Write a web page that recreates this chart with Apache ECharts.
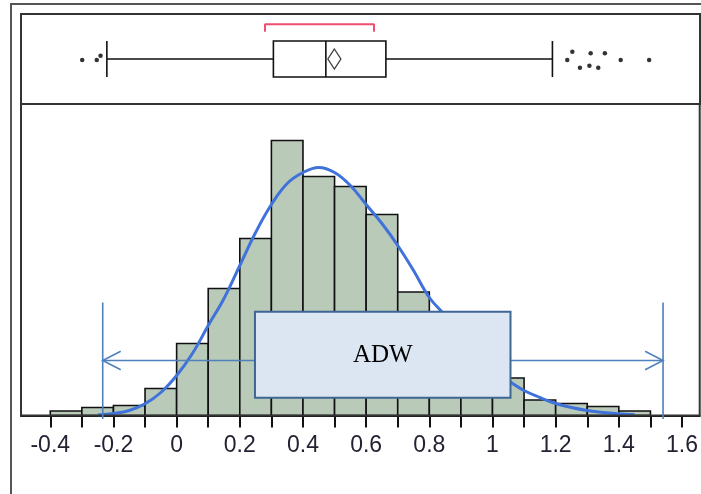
<!DOCTYPE html>
<html>
<head>
<meta charset="utf-8">
<script src="https://cdn.jsdelivr.net/npm/echarts@6/dist/echarts.min.js"></script>
<style>
html,body{margin:0;padding:0;background:#fff;}
#chart{width:701px;height:494px;}
</style>
</head>
<body>
<div id="chart"></div>
<script>
// ---- data ----
const binStarts = [-0.4,-0.3,-0.2,-0.1,0,0.1,0.2,0.3,0.4,0.5,0.6,0.7,0.8,0.9,1.0,1.1,1.2,1.3,1.4];
const binWidth = 0.1;
const binCounts = [4.5,8,10,27,72,127,177,275,239,229,201,123.5,90,58,37.5,15.5,12,9,4.5];

const curveX = [-0.25,-0.2,-0.15,-0.1,-0.05,0,0.05,0.1,0.15,0.2,0.25,0.3,0.35,0.4,0.45,0.5,0.55,0.6,0.65,0.7,0.75,0.8,0.85,0.9,0.95,1.0,1.05,1.1,1.15,1.2,1.25,1.3,1.35,1.4,1.45];
const curveY = [0.5,2,5,11.7,23,40,62,90,117,150,183,211,232,243,248,243,230,211,192,170,145,118,100,80,62,47,35,25,18,12,8,5,3,1.7,0.8];

// box plot: [lower whisker, Q1, median, Q3, upper whisker]
const boxStats = [-0.221, 0.306, 0.472, 0.662, 1.189];
const meanValue = 0.499;
const outlierX = [-0.299,-0.253,-0.241,1.236,1.252,1.276,1.306,1.310,1.334,1.355,1.405,1.495];
const outlierJitter = [-1,-1,3.3,-1,7.3,-8.7,-6.7,5.7,-8.7,5.7,-1,-1];
const bracketX = [0.2795, 0.6244];

const tickValues = [-0.4,-0.3,-0.2,-0.1,0,0.1,0.2,0.3,0.4,0.5,0.6,0.7,0.8,0.9,1.0,1.1,1.2,1.3,1.4,1.5,1.6];
const tickLabels = [-0.4,-0.2,0,0.2,0.4,0.6,0.8,1.0,1.2,1.4,1.6];

const adwLabel = 'ADW';
const adwRange = [-0.234, 1.540];
const adwBoxX = [0.248, 1.057];
const adwBoxY = [17.8, 103.8];
const adwArrowY = 55;
const adwLineY = [-3.5, 113];

const xMin = -0.4927, xMax = 1.656;
const yHistMax = 311.5;

// ---- chart ----
const chart = echarts.init(document.getElementById('chart'), null, {renderer:'canvas'});

const dark = '#111';
const option = {
  animation: false,
  backgroundColor: '#fff',
  graphic: [{
    type: 'rect', silent: true, z: 100,
    shape: {x: 11, y: 4, width: 720, height: 520},
    style: {fill: 'none', stroke: '#555', lineWidth: 2}
  }],
  grid: [
    {left: 21, top: 14, width: 679, height: 90, show: true, borderColor: '#333', borderWidth: 2, backgroundColor: 'transparent', z: 10},
    {left: 21, top: 104, width: 679, height: 311.5, show: true, borderColor: '#333', borderWidth: 2, backgroundColor: 'transparent', z: 10}
  ],
  xAxis: [
    {type: 'value', gridIndex: 0, min: xMin, max: xMax, show: false},
    {type: 'value', gridIndex: 1, min: xMin, max: xMax,
     splitLine: {show: false},
     axisLine: {show: true, onZero: false, lineStyle: {color: dark, width: 2}},
     axisTick: {show: true, inside: false, length: 12, customValues: tickValues, lineStyle: {color: dark, width: 2}},
     axisLabel: {show: true, margin: 19, customValues: tickLabels,
       fontFamily: 'Liberation Sans, Arial, sans-serif', fontSize: 23, color: '#222233',
       formatter: v => String(parseFloat(Number(v).toFixed(1)))},
     minorTick: {show: false}}
  ],
  yAxis: [
    {type: 'category', gridIndex: 0, data: ['ADW'], show: false},
    {type: 'value', gridIndex: 0, min: -45, max: 45, show: false},
    {type: 'value', gridIndex: 1, min: 0, max: yHistMax, show: false, splitLine: {show: false}}
  ],
  series: [
    {
      type: 'boxplot', xAxisIndex: 0, yAxisIndex: 0,
      layout: 'horizontal',
      boxWidth: [36, 36],
      data: [boxStats],
      itemStyle: {color: '#fff', borderColor: dark, borderWidth: 1.6},
      z: 3
    },
    {
      type: 'scatter', xAxisIndex: 0, yAxisIndex: 1,
      data: [[meanValue, 0]],
      symbol: 'diamond', symbolSize: [13, 20],
      itemStyle: {color: '#fff', borderColor: dark, borderWidth: 1.4},
      z: 4
    },
    {
      type: 'scatter', xAxisIndex: 0, yAxisIndex: 1,
      data: outlierX.map((x, i) => [x, outlierJitter[i]]),
      symbol: 'circle', symbolSize: 4.5,
      itemStyle: {color: '#000'},
      z: 4
    },
    {
      type: 'line', xAxisIndex: 0, yAxisIndex: 1,
      data: [[bracketX[0], 27.3], [bracketX[0], 34.7], [bracketX[1], 34.7], [bracketX[1], 27.3]],
      symbol: 'none',
      lineStyle: {color: '#F0506E', width: 2},
      z: 4
    },
    {
      type: 'custom', xAxisIndex: 1, yAxisIndex: 2,
      data: binStarts.map((s, i) => [s, s + binWidth, binCounts[i]]),
      renderItem: function (params, api) {
        const p0 = api.coord([api.value(0), api.value(2)]);
        const p1 = api.coord([api.value(1), 0]);
        return {
          type: 'rect',
          shape: {x: p0[0], y: p0[1], width: p1[0] - p0[0], height: p1[1] - p0[1]},
          style: {fill: '#BACAB9', stroke: dark, lineWidth: 1.6}
        };
      },
      z: 2
    },
    {
      type: 'line', xAxisIndex: 1, yAxisIndex: 2,
      data: curveX.map((x, i) => [x, curveY[i]]),
      smooth: 0.4, symbol: 'none',
      lineStyle: {color: '#3F72DA', width: 3},
      z: 5
    },
    {
      type: 'custom', xAxisIndex: 1, yAxisIndex: 2,
      data: [[0]],
      clip: false,
      renderItem: function (params, api) {
        const blue = '#4F81BD';
        const l = api.coord([adwRange[0], adwArrowY]);
        const r = api.coord([adwRange[1], adwArrowY]);
        const lt = api.coord([adwRange[0], adwLineY[1]]);
        const lb = api.coord([adwRange[0], adwLineY[0]]);
        const rt = api.coord([adwRange[1], adwLineY[1]]);
        const rb = api.coord([adwRange[1], adwLineY[0]]);
        const b0 = api.coord([adwBoxX[0], adwBoxY[1]]);
        const b1 = api.coord([adwBoxX[1], adwBoxY[0]]);
        const ls = {stroke: blue, lineWidth: 1.6, fill: 'none'};
        return {
          type: 'group',
          children: [
            {type: 'line', shape: {x1: lt[0], y1: lt[1], x2: lb[0], y2: lb[1]}, style: ls},
            {type: 'line', shape: {x1: rt[0], y1: rt[1], x2: rb[0], y2: rb[1]}, style: ls},
            {type: 'line', shape: {x1: l[0], y1: l[1], x2: r[0], y2: r[1]}, style: ls},
            {type: 'polyline', shape: {points: [[l[0] + 18, l[1] - 9.3], [l[0], l[1]], [l[0] + 18, l[1] + 9.3]]}, style: ls},
            {type: 'polyline', shape: {points: [[r[0] - 18, r[1] - 9.3], [r[0], r[1]], [r[0] - 18, r[1] + 9.3]]}, style: ls},
            {type: 'rect', shape: {x: b0[0], y: b0[1], width: b1[0] - b0[0], height: b1[1] - b0[1]},
             style: {fill: '#DCE6F2', stroke: '#3E6695', lineWidth: 2}},
            {type: 'text', x: (b0[0] + b1[0]) / 2, y: (b0[1] + b1[1]) / 2 + 1,
             style: {text: adwLabel, fill: '#000', font: '25px "Liberation Serif", "Times New Roman", serif',
                     align: 'center', verticalAlign: 'middle'}}
          ]
        };
      },
      z: 20
    }
  ]
};
chart.setOption(option);
</script>
</body>
</html>
